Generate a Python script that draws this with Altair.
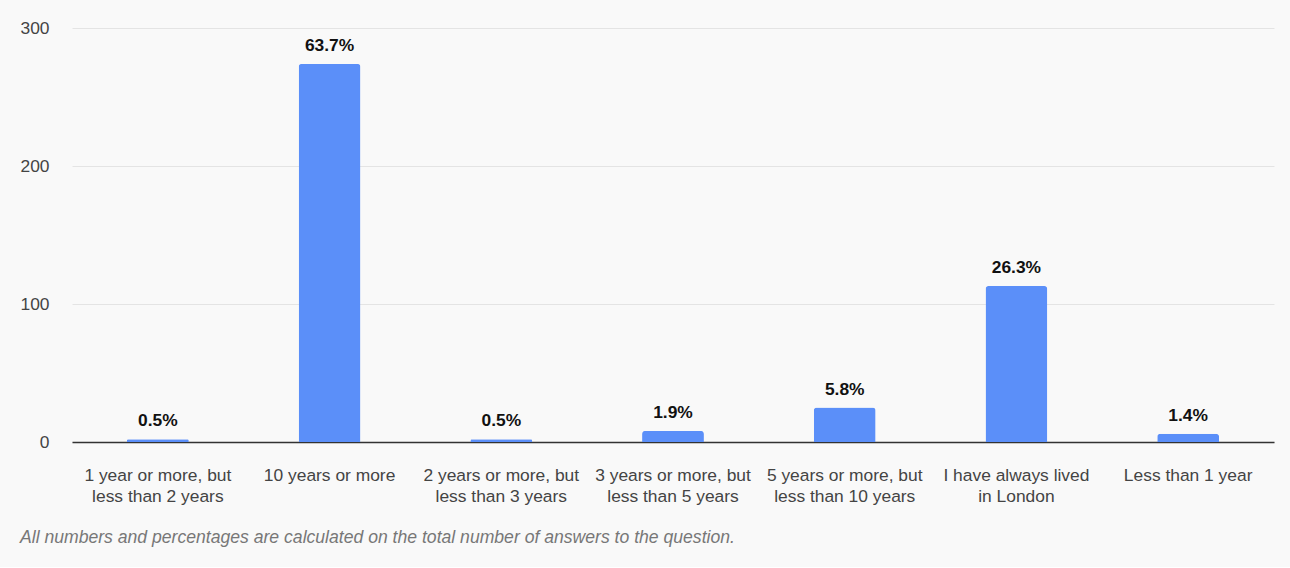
import altair as alt
import pandas as pd

# Answers: how long have you lived in London?
categories = [
    "1 year or more, but less than 2 years",
    "10 years or more",
    "2 years or more, but less than 3 years",
    "3 years or more, but less than 5 years",
    "5 years or more, but less than 10 years",
    "I have always lived in London",
    "Less than 1 year",
]
label_lines = [
    ["1 year or more, but", "less than 2 years"],
    ["10 years or more"],
    ["2 years or more, but", "less than 3 years"],
    ["3 years or more, but", "less than 5 years"],
    ["5 years or more, but", "less than 10 years"],
    ["I have always lived", "in London"],
    ["Less than 1 year"],
]
counts = [2, 274, 2, 8, 25, 113, 6]
y_ticks = [0, 100, 200, 300]
footnote = "All numbers and percentages are calculated on the total number of answers to the question."

total = sum(counts)
df = pd.DataFrame({
    "category": categories,
    "count": counts,
    "share": [c / total for c in counts],
})

# Map each category to its wrapped axis label
label_map = "{" + ", ".join(
    "'" + c + "': [" + ", ".join("'" + l + "'" for l in lines) + "]"
    for c, lines in zip(categories, label_lines)
) + "}"

FONT = "Liberation Sans"
FS = 17.4

x_enc = alt.X(
    "category:N",
    sort=categories,
    title=None,
    scale=alt.Scale(paddingInner=0.64, paddingOuter=0.32),
    axis=alt.Axis(
        labelAngle=0,
        labelExpr=label_map + "[datum.label]",
        labelFont=FONT,
        labelFontSize=FS,
        labelColor="#444444",
        labelPadding=24,
        labelLineHeight=21,
        labelBaseline="top",
        ticks=False,
        domainColor="#333333",
        domainWidth=1.5,
        grid=False,
    ),
)

bars = alt.Chart(df).mark_bar(
    color="#5b8ff9",
    cornerRadiusTopLeft=3,
    cornerRadiusTopRight=3,
).encode(
    x=x_enc,
    y=alt.Y(
        "count:Q",
        title=None,
        scale=alt.Scale(domain=[0, 300], nice=False),
        axis=alt.Axis(
            values=y_ticks,
            labelFont=FONT,
            labelFontSize=FS,
            labelColor="#444444",
            labelPadding=23,
            ticks=False,
            domain=False,
            gridColor="#e4e4e4",
            gridWidth=1,
        ),
    ),
)

labels = alt.Chart(df).mark_text(
    font=FONT,
    fontSize=FS,
    fontWeight="bold",
    color="#111111",
    baseline="bottom",
    dy=-9,
).encode(
    x=alt.X("category:N", sort=categories),
    y="count:Q",
    text=alt.Text("share:Q", format=".1%"),
)

chart = (
    alt.layer(bars, labels)
    .properties(
        width=1202,
        height=414,
        background="#f9f9f9",
        padding={"left": 19, "top": 19, "right": 16, "bottom": 20},
        title=alt.TitleParams(
            text=footnote,
            orient="bottom",
            anchor="start",
            font=FONT,
            fontSize=17.6,
            fontStyle="italic",
            fontWeight="normal",
            color="#777777",
            offset=25,
        ),
    )
    .configure_view(stroke=None)
)

chart.save("out.html", embed_options={"renderer": "svg", "actions": False})
